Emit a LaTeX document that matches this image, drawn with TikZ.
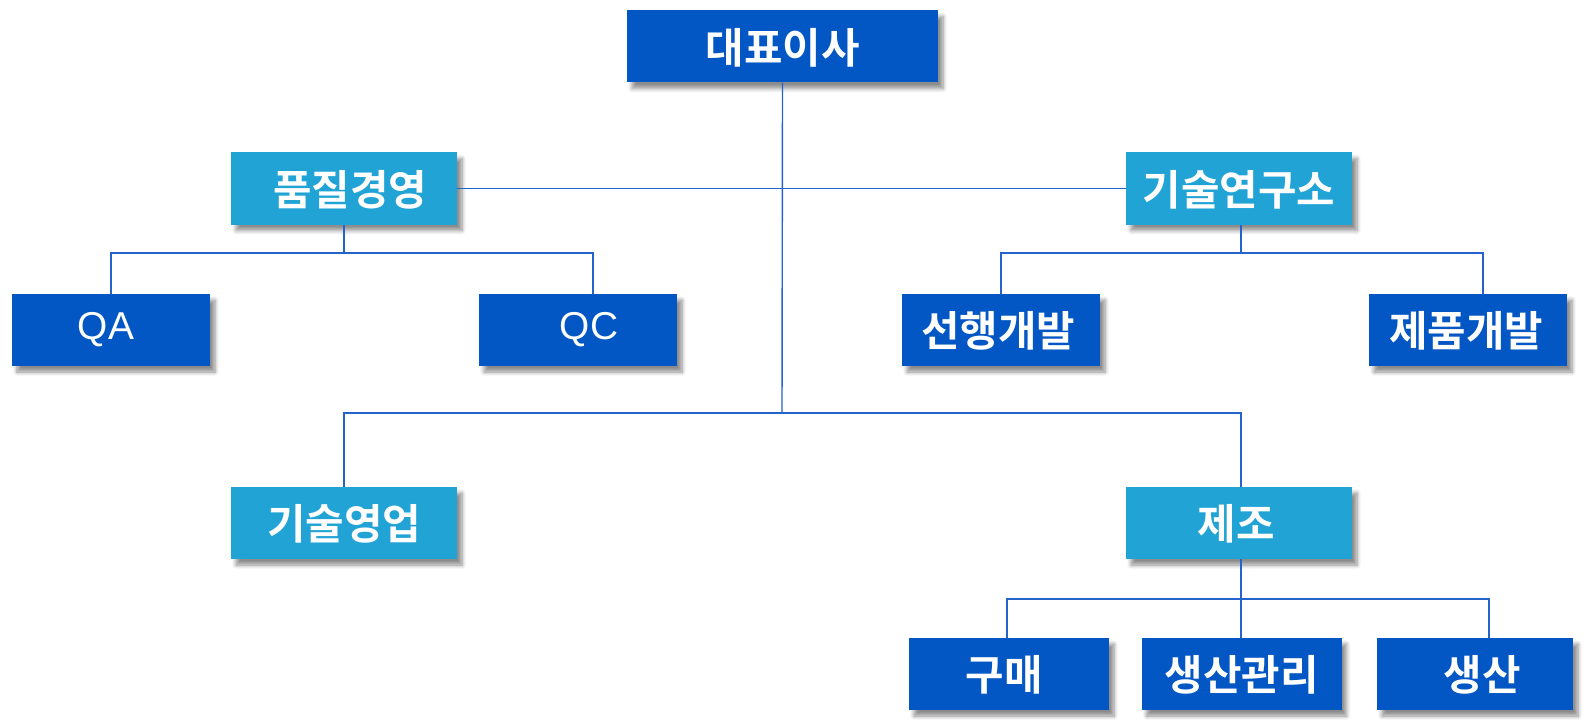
\documentclass[tikz,border=0pt]{standalone}
\usepackage{fontspec}
\setmainfont{Noto Sans CJK KR}[BoldFont={* Bold}]
\newfontfamily\latinfont{Liberation Sans}
\usetikzlibrary{shadows.blur}
\definecolor{darkbox}{RGB}{2,87,197}
\definecolor{lightbox}{RGB}{33,163,214}
\definecolor{linkcol}{RGB}{37,99,204}
\tikzset{
  x=1bp, y=-1bp,
  basebox/.style={draw=none, inner sep=0pt, minimum height=72bp,
    blur shadow={shadow xshift=5bp, shadow yshift=-6bp, shadow blur steps=6, shadow blur radius=4bp, shadow opacity=45}},
  dbox/.style={basebox, fill=darkbox, minimum width=198bp},
  lbox/.style={basebox, fill=lightbox, minimum width=226bp},
  kt/.style={text=white, font=\bfseries\fontsize{42}{46}\selectfont, inner sep=0pt, yshift=-1bp},
  lt/.style={text=white, font=\latinfont\fontsize{39}{44}\selectfont, inner sep=0pt},
  link/.style={draw=linkcol, line width=1.4bp},
}
\begin{document}
\begin{tikzpicture}
\useasboundingbox (0,0) rectangle (1586,728);
\coordinate (j0) at (782,413);
\coordinate (ja) at (344,253);
\coordinate (jb) at (1241,253);
\coordinate (jc) at (1241,599);

\node[dbox, minimum width=311bp, label={[kt]center:대표이사}] (ceo) at (782.5,46.5) {};
\node[lbox, label={[kt,xshift=6bp]center:품질경영}] (qm) at (344,188.5) {};
\node[lbox, label={[kt]center:기술연구소}] (lab) at (1239,188.5) {};
\node[dbox, label={[lt,xshift=-5bp]center:QA}] (qa) at (111,330) {};
\node[dbox, label={[lt,xshift=11bp]center:QC}] (qc) at (578,330) {};
\node[dbox, label={[kt,xshift=-3bp]center:선행개발}] (adv) at (1001,330) {};
\node[dbox, label={[kt,xshift=-2bp]center:제품개발}] (prd) at (1468,330) {};
\node[lbox, label={[kt]center:기술영업}] (sales) at (344,523) {};
\node[lbox, label={[kt,xshift=-3bp]center:제조}] (mfg) at (1239,523) {};
\node[dbox, minimum width=200bp, label={[kt,xshift=-5bp]center:구매}] (buy) at (1009,674) {};
\node[dbox, minimum width=200bp, label={[kt]center:생산관리}] (pm) at (1241.5,674) {};
\node[dbox, minimum width=196bp, label={[kt,xshift=7bp]center:생산}] (prod) at (1475,674) {};

\draw[link] (ceo.south) -- (j0);
\draw[link] (qm.east) -- (lab.west);
\draw[link] (qm.south -| ja) -- (ja);
\draw[link] (qa.north) |- (ja) -| (qc.north -| 593,0);
\draw[link] (lab.south -| jb) -- (jb);
\draw[link] (adv.north) |- (jb) -| (prd.north -| 1483,0);
\draw[link] (sales.north) |- (j0) -| (mfg.north -| 1241,0);
\draw[link] (mfg.south -| jc) -- (jc);
\draw[link] (buy.north -| 1007,0) |- (jc) -| (prod.north -| 1489,0);
\draw[link] (pm.north -| jc) -- (jc);
\end{tikzpicture}
\end{document}
